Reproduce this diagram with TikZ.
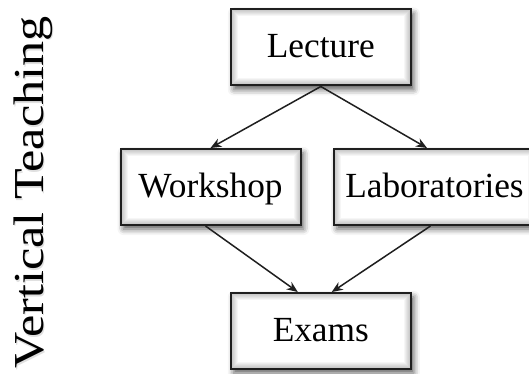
\documentclass[tikz,border=0pt]{standalone}
\usepackage{fontspec}
\setmainfont{Liberation Serif}
\usetikzlibrary{arrows.meta,shadows.blur}
\tikzset{
  innerglow/.style={path picture={
    \foreach \w in {2,4,...,14}
      \draw[black, opacity=0.035, line width=\w pt]
        (path picture bounding box.south west) rectangle
        (path picture bounding box.north east);}},
  unit/.style={draw=black!88, line width=2pt, fill=white,
    minimum width=180pt, minimum height=76pt, inner sep=0pt,
    text height=25pt, text depth=5pt,
    font=\fontsize{35.3}{40}\selectfont, innerglow,
    blur shadow={shadow xshift=3pt, shadow yshift=-4pt,
      shadow blur radius=6pt, shadow opacity=65}},
  link/.style={line width=1.5pt, draw=black!88,
    -{Stealth[length=11pt,width=9pt]}},
  caption/.style={rotate=90, anchor=base,
    font=\fontsize{42.7}{48}\selectfont}
}
\begin{document}
\begin{tikzpicture}[x=1pt,y=-1pt]
\useasboundingbox (0,0) rectangle (529,374);
\clip (0,0) rectangle (529,374);
% side caption with a faint soft copy behind it
\node[caption, text=black!12] (vtshade) at (44.5,194)
  {\scalebox{1.176}[1]{Vertical Teaching}};
\node[caption] (vt) at (43,192.5)
  {\scalebox{1.176}[1]{Vertical Teaching}};
% boxes
\node[unit] (lec) at (320.8,47.5) {Lecture};
\node[unit] (ws) at (210.5,187) {Workshop};
\node[unit, minimum width=201pt] (lab) at (434.5,187) {Laboratories};
\node[unit] (ex) at (320.8,331) {Exams};
% connectors
\draw[link] (lec.south) -- (ws.north);
\draw[link] (lec.south) -- ([xshift=94pt]lab.north west);
\draw[link] ([xshift=-5pt]ws.south) -- ([xshift=-23pt]ex.north);
\draw[link] ([xshift=-4pt]lab.south) -- ([xshift=11pt]ex.north);
\end{tikzpicture}
\end{document}
